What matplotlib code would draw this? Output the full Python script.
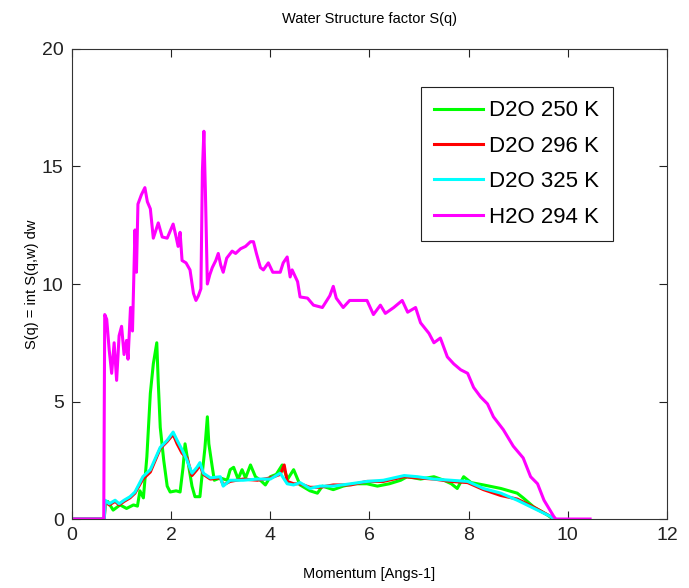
import matplotlib
matplotlib.use("Agg")
import matplotlib.pyplot as plt

plt.rcParams['font.family'] = ['Liberation Sans', 'DejaVu Sans']

# momentum q (Angs-1) and S(q)
q_h2o = [0, 0.64, 0.66, 0.7, 0.75, 0.8, 0.85, 0.9, 0.95, 1.0, 1.05, 1.1, 1.13, 1.18, 1.22,
         1.27, 1.3, 1.33, 1.4, 1.47, 1.52, 1.58, 1.64, 1.74, 1.82, 1.92, 2.04, 2.1, 2.14,
         2.18, 2.22, 2.3, 2.38, 2.45, 2.5, 2.55, 2.6, 2.63, 2.66, 2.69, 2.73, 2.78, 2.83,
         2.9, 2.95, 3.0, 3.05, 3.12, 3.23, 3.3, 3.4, 3.5, 3.6, 3.66, 3.72, 3.8, 3.86, 3.96,
         4.05, 4.2, 4.26, 4.34, 4.4, 4.44, 4.55, 4.6, 4.75, 4.87, 5.05, 5.2, 5.27, 5.33,
         5.47, 5.6, 5.75, 5.95, 6.08, 6.22, 6.32, 6.49, 6.66, 6.77, 6.93, 7.03, 7.2, 7.3,
         7.43, 7.57, 7.7, 7.84, 7.98, 8.1, 8.24, 8.38, 8.5, 8.7, 8.9, 9.1, 9.25, 9.39,
         9.52, 9.72, 9.76, 10.45]
s_h2o = [0, 0, 8.7, 8.5, 7.2, 6.2, 7.5, 5.9, 7.8, 8.2, 7.0, 7.6, 6.8, 9.0, 8.0,
         12.3, 10.5, 13.4, 13.8, 14.1, 13.5, 13.2, 11.95, 12.6, 12.0, 11.95, 12.55, 12.0, 11.6,
         12.2, 11.0, 10.9, 10.6, 9.6, 9.3, 9.5, 9.8, 14.8, 16.5, 14.0, 10.0, 10.4, 10.7,
         11.0, 11.3, 10.8, 10.5, 11.1, 11.4, 11.3, 11.5, 11.6, 11.8, 11.8, 11.3, 10.7, 10.6, 10.9,
         10.5, 10.5, 10.9, 11.15, 10.3, 10.6, 10.1, 9.45, 9.4, 9.1, 9.0, 9.5, 9.9, 9.4,
         9.0, 9.3, 9.3, 9.3, 8.7, 9.1, 8.75, 9.0, 9.3, 8.8, 9.0, 8.35, 7.9, 7.5,
         7.7, 6.9, 6.6, 6.35, 6.2, 5.6, 5.2, 4.9, 4.35, 3.8, 3.1, 2.6, 1.8, 1.5,
         0.8, 0.1, 0, 0]

q_250 = [0, 0.65, 0.67, 0.72, 0.83, 0.97, 1.1, 1.24, 1.32, 1.37, 1.44, 1.51, 1.58, 1.64,
         1.71, 1.74, 1.78, 1.85, 1.92, 1.98, 2.1, 2.18, 2.24, 2.28, 2.35, 2.42, 2.48, 2.58,
         2.62, 2.68, 2.73, 2.76, 2.83, 2.87, 2.99, 3.13, 3.19, 3.26, 3.35, 3.43, 3.5, 3.6,
         3.7, 3.8, 3.9, 4.0, 4.12, 4.24, 4.35, 4.47, 4.6, 4.8, 4.95, 5.05, 5.27, 5.47,
         5.68, 5.95, 6.16, 6.4, 6.63, 6.76, 7.03, 7.3, 7.5, 7.65, 7.77, 7.9, 8.05, 8.3,
         8.65, 8.98, 9.1, 9.32, 9.59, 9.7]
s_250 = [0, 0, 0.6, 0.75, 0.38, 0.6, 0.45, 0.6, 0.55, 1.2, 0.9, 2.65, 5.35, 6.6,
         7.5, 5.8, 3.9, 2.5, 1.4, 1.15, 1.2, 1.15, 2.2, 3.2, 2.3, 1.4, 0.95, 0.95,
         1.8, 3.0, 4.35, 3.2, 2.2, 1.65, 1.75, 1.65, 2.1, 2.2, 1.7, 2.1, 1.75, 2.3,
         1.8, 1.65, 1.45, 1.8, 1.9, 2.3, 1.7, 2.1, 1.45, 1.2, 1.1, 1.4, 1.25, 1.4,
         1.5, 1.5, 1.4, 1.5, 1.65, 1.8, 1.7, 1.8, 1.65, 1.5, 1.3, 1.8, 1.55, 1.45,
         1.3, 1.1, 0.9, 0.5, 0.17, 0]

q_296 = [0, 0.65, 0.67, 0.75, 0.87, 0.95, 1.05, 1.17, 1.27, 1.43, 1.58, 1.78, 1.92, 2.04,
         2.12, 2.22, 2.32, 2.42, 2.52, 2.58, 2.65, 2.79, 2.99, 3.05, 3.19, 3.45, 3.74, 4.0,
         4.2, 4.28, 4.34, 4.47, 4.6, 4.8, 5.0, 5.27, 5.62, 5.95, 6.28, 6.7, 6.97, 7.3,
         7.64, 7.98, 8.3, 8.65, 8.98, 9.32, 9.66, 9.72]
s_296 = [0, 0, 0.75, 0.6, 0.75, 0.6, 0.75, 0.9, 1.1, 1.7, 2.0, 3.0, 3.3, 3.6,
         3.2, 2.8, 2.6, 1.85, 2.1, 2.3, 1.9, 1.7, 1.75, 1.45, 1.6, 1.7, 1.65, 1.75,
         1.9, 2.3, 1.6, 1.5, 1.5, 1.35, 1.35, 1.45, 1.45, 1.6, 1.6, 1.8, 1.75, 1.7,
         1.6, 1.55, 1.25, 1.0, 0.85, 0.5, 0.1, 0]

q_325 = [0, 0.65, 0.67, 0.75, 0.87, 0.95, 1.05, 1.17, 1.27, 1.43, 1.58, 1.78, 1.92, 2.04,
         2.12, 2.22, 2.32, 2.42, 2.52, 2.58, 2.65, 2.79, 2.99, 3.05, 3.19, 3.45, 3.74, 4.0,
         4.2, 4.34, 4.47, 4.6, 4.8, 5.0, 5.27, 5.62, 5.95, 6.28, 6.7, 6.97, 7.3, 7.64,
         7.98, 8.3, 8.65, 8.98, 9.32, 9.66, 9.72]
s_325 = [0, 0, 0.8, 0.65, 0.8, 0.65, 0.8, 0.95, 1.15, 1.8, 2.1, 3.05, 3.35, 3.7,
         3.35, 2.95, 2.5, 1.95, 2.2, 2.4, 1.95, 1.75, 1.8, 1.4, 1.65, 1.65, 1.7, 1.7,
         1.95, 1.5, 1.45, 1.55, 1.3, 1.4, 1.4, 1.5, 1.6, 1.65, 1.85, 1.8, 1.7, 1.65,
         1.6, 1.3, 1.1, 0.8, 0.45, 0.1, 0]

fig = plt.figure(figsize=(6.89, 5.88), dpi=100)
ax = fig.add_axes([0.1045, 0.1173, 0.8635, 0.7994])

lw = 2.2
ax.plot(q_250, s_250, color='#00ff00', lw=lw, label='D2O 250 K')
ax.plot(q_296, s_296, color='#ff0000', lw=lw, label='D2O 296 K')
ax.plot(q_325, s_325, color='#00ffff', lw=lw, label='D2O 325 K')
ax.plot(q_h2o, s_h2o, color='#ff00ff', lw=lw, label='H2O 294 K')

ax.set_xlim(0, 12)
ax.set_ylim(0, 20)
ax.set_xticks(range(0, 13, 2))
ax.set_yticks(range(0, 21, 5))
ax.tick_params(direction='in', top=True, right=True, length=6, width=0.8,
               labelsize=14, colors='#222222', pad=6)
for sp in ax.spines.values():
    sp.set_linewidth(0.8)
    sp.set_color('#333333')

ax.set_title('Water Structure factor S(q)', fontsize=10.5, pad=19)
ax.set_xlabel('Momentum [Angs-1]', fontsize=10.5, labelpad=16)
ax.set_ylabel('S(q) = int S(q,w) dw', fontsize=10.5, labelpad=2)

leg = ax.legend(loc='upper right', bbox_to_anchor=(0.909, 0.919), borderaxespad=0,
                fontsize=16, fancybox=False, framealpha=1, edgecolor='#222222',
                handlelength=2.2, handletextpad=0.3, labelspacing=0.65, borderpad=0.6)
leg.get_frame().set_linewidth(0.8)

fig.savefig('out.png', dpi=100)
